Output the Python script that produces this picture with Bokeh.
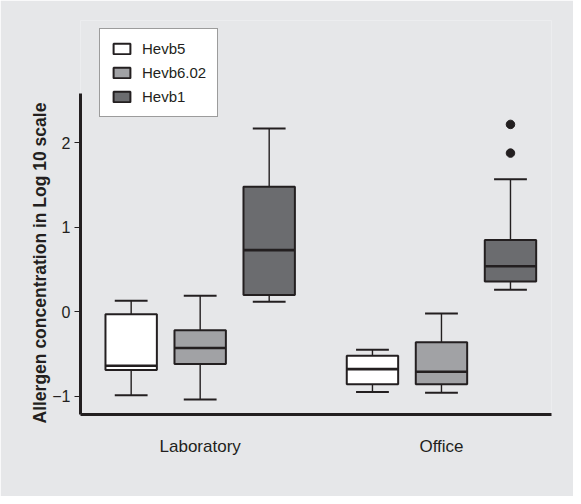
from bokeh.plotting import figure
from bokeh.models import (ColumnDataSource, Range1d, FixedTicker, Legend, LegendItem, Title)
from bokeh.transform import dodge
from bokeh.embed import file_html
from bokeh.resources import INLINE

# ---- data ----
groups = ["Laboratory", "Office"]
series = ["Hevb5", "Hevb6.02", "Hevb1"]

hevb5_low = [-0.99, -0.95]
hevb5_q1 = [-0.69, -0.86]
hevb5_med = [-0.64, -0.68]
hevb5_q3 = [-0.03, -0.52]
hevb5_high = [0.13, -0.45]

hevb602_low = [-1.04, -0.96]
hevb602_q1 = [-0.62, -0.86]
hevb602_med = [-0.43, -0.71]
hevb602_q3 = [-0.22, -0.36]
hevb602_high = [0.19, -0.02]

hevb1_low = [0.12, 0.26]
hevb1_q1 = [0.20, 0.36]
hevb1_med = [0.73, 0.54]
hevb1_q3 = [1.48, 0.85]
hevb1_high = [2.17, 1.57]

outlier_group = ["Office", "Office"]
outlier_series = ["Hevb1", "Hevb1"]
outlier_value = [1.88, 2.22]

y_ticks = [-1, 0, 1, 2]
y_title = "Allergen concentration in Log 10  scale"

# ---- styling ----
BG = "#e6e7e9"
INK = "#231f20"
FILLS = {"Hevb5": "#ffffff", "Hevb6.02": "#a1a2a5", "Hevb1": "#6b6c6f"}
OFFSETS = {"Hevb5": -0.286, "Hevb6.02": 0.0, "Hevb1": 0.286}
BOX_W = 0.213
CAP_W = 0.136
FONT = "Liberation Sans"

p = figure(width=573, height=496, output_backend="svg", toolbar_location=None,
           x_range=Range1d(-0.496, 1.456), y_range=Range1d(-1.217, 3.451),
           min_border_left=80, min_border_right=22, min_border_top=20, min_border_bottom=82,
           background_fill_color=BG, border_fill_color=BG, outline_line_color=None)
p.xgrid.visible = False
p.ygrid.visible = False

data = {
    "Hevb5": (hevb5_low, hevb5_q1, hevb5_med, hevb5_q3, hevb5_high),
    "Hevb6.02": (hevb602_low, hevb602_q1, hevb602_med, hevb602_q3, hevb602_high),
    "Hevb1": (hevb1_low, hevb1_q1, hevb1_med, hevb1_q3, hevb1_high),
}

legend_items = []
for s in series:
    low, q1, med, q3, high = data[s]
    src = ColumnDataSource(dict(x=list(range(len(groups))), low=low, q1=q1, med=med, q3=q3, high=high))
    off = OFFSETS[s]
    xr = p.x_range
    # whiskers
    p.segment(x0=dodge("x", off, range=xr), x1=dodge("x", off, range=xr), y0="q3", y1="high",
              source=src, line_color=INK, line_width=1.4)
    p.segment(x0=dodge("x", off, range=xr), x1=dodge("x", off, range=xr), y0="q1", y1="low",
              source=src, line_color=INK, line_width=1.4)
    # caps
    p.segment(x0=dodge("x", off - CAP_W / 2, range=xr), x1=dodge("x", off + CAP_W / 2, range=xr),
              y0="high", y1="high", source=src, line_color=INK, line_width=2)
    p.segment(x0=dodge("x", off - CAP_W / 2, range=xr), x1=dodge("x", off + CAP_W / 2, range=xr),
              y0="low", y1="low", source=src, line_color=INK, line_width=2)
    # box
    r = p.vbar(x=dodge("x", off, range=xr), width=BOX_W, bottom="q1", top="q3", source=src,
               fill_color=FILLS[s], line_color=INK, line_width=2)
    # median
    p.segment(x0=dodge("x", off - BOX_W / 2, range=xr), x1=dodge("x", off + BOX_W / 2, range=xr),
              y0="med", y1="med", source=src, line_color=INK, line_width=2.6)
    legend_items.append(LegendItem(label=s, renderers=[r]))

osrc = ColumnDataSource(dict(x=[groups.index(g) for g in outlier_group], y=outlier_value))
p.scatter(x=dodge("x", OFFSETS["Hevb1"], range=p.x_range), y="y", source=osrc, size=8.5,
          fill_color=INK, line_color=INK)

# axes
p.yaxis.ticker = FixedTicker(ticks=y_ticks)
p.yaxis.bounds = (-1.217, 2.59)
p.xaxis.ticker = FixedTicker(ticks=list(range(len(groups))))
p.xaxis.major_label_overrides = {i: g for i, g in enumerate(groups)}
for ax in (p.xaxis[0], p.yaxis[0]):
    ax.axis_line_width = 3
    ax.axis_line_color = INK
    ax.minor_tick_line_color = None
    ax.major_label_text_font = FONT
    ax.major_label_text_color = INK
p.xaxis.major_label_text_font_size = "17px"
p.yaxis.major_label_text_font_size = "16px"
p.xaxis.major_tick_line_color = None
p.xaxis.major_label_standoff = 16
p.yaxis.major_tick_in = 0
p.yaxis.major_tick_out = 6
p.yaxis.major_tick_line_color = INK
p.yaxis.major_tick_line_width = 1
p.yaxis.major_label_standoff = 4

p.add_layout(Title(text=y_title, align="left", offset=-9, standoff=0,
                   text_font=FONT, text_font_style="bold", text_font_size="17.5px",
                   text_color=INK), "left")

legend = Legend(items=legend_items, location=(19, 297), orientation="vertical",
                glyph_width=21, glyph_height=13, label_height=13, spacing=7,
                padding=11, margin=0, label_standoff=10,
                label_text_font=FONT, label_text_font_size="15px", label_text_color=INK,
                border_line_color="#3a3a3a", border_line_width=1,
                background_fill_color="white", background_fill_alpha=1)
p.add_layout(legend, "center")

open("out.html", "w").write(file_html(p, INLINE))
